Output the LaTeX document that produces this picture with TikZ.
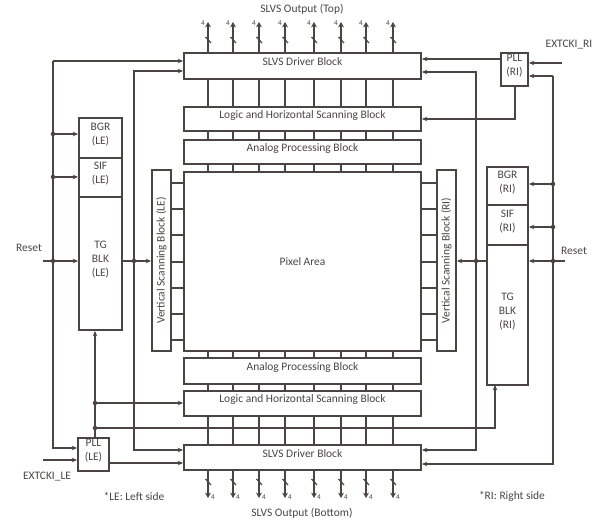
\documentclass[tikz,border=0pt]{standalone}
\usepackage{fontspec}
\setmainfont{Carlito}
\usetikzlibrary{arrows.meta,fit}
\definecolor{lc}{HTML}{4A4442}
\definecolor{tc}{HTML}{4A4646}
\tikzset{
  ln/.style={draw=lc, line width=1.2pt},
  arr/.style={ln, -{Stealth[length=4pt,width=3.4pt]}},
  box/.style={draw=lc, line width=1.4pt, fill=white, inner sep=0pt, text=tc, align=center, font=\fontsize{8.6}{10.5}\selectfont},
  lbl/.style={text=tc, inner sep=0pt, align=center, font=\fontsize{8.6}{10.5}\selectfont},
  small/.style={text=tc, inner sep=0pt, font=\fontsize{5.5}{5.5}\selectfont},
  bus/.style={draw=lc, line width=2.2pt},
  dot/.style={circle, fill=lc, inner sep=0pt, minimum size=3.4pt},
}
\begin{document}
\begin{tikzpicture}[x=0.75pt,y=-0.75pt]
\useasboundingbox (0,0) rectangle (608,524);
% main column blocks
\node[box, fit={(184,53) (421,79)}] (drvT) {SLVS Driver Block};
\node[box, fit={(184,107) (421,131)}] (logT) {Logic and Horizontal Scanning Block};
\node[box, fit={(184,140) (421,164)}] (anaT) {Analog Processing Block};
\node[box, fit={(184,172) (421,351)}] (pix) {};
\node[lbl] (pixt) at (pix.center) {Pixel Area};
\node[box, fit={(184,358) (421,384)}] (anaB) {Analog Processing Block};
\node[box, fit={(184,391) (421,416)}] (logB) {Logic and Horizontal Scanning Block};
\node[box, fit={(184,445) (421,470)}] (drvB) {SLVS Driver Block};
% vertical scanning blocks
\node[box, fit={(152,170) (171,351)}] (vsbL) {};
\node[lbl, rotate=90] (vsbLt) at (vsbL.center) {Vertical Scanning Block (LE)};
\node[box, fit={(437,170) (456,351)}] (vsbR) {};
\node[lbl, rotate=90] (vsbRt) at (vsbR.center) {Vertical Scanning Block (RI)};
% side stacks
\node[box, fit={(79,118) (122,158)}] (bgrL) {BGR\\(LE)};
\node[box, fit={(79,158) (122,197)}] (sifL) {SIF\\(LE)};
\node[box, fit={(79,197) (122,330)}] (tgL) {TG\\BLK\\(LE)};
\node[box, fit={(487,167) (528,205)}] (bgrR) {BGR\\(RI)};
\node[box, fit={(487,205) (528,245)}] (sifR) {SIF\\(RI)};
\node[box, fit={(487,245) (528,385)}] (tgR) {TG\\BLK\\(RI)};
\node[box, fit={(78,438) (109,471)}] (pllL) {PLL\\(LE)};
\node[box, fit={(501,53) (528,86)}] (pllR) {PLL\\(RI)};
% buses between blocks
\foreach \x in {208,233,259,285,314,341,366,393}{
  \draw[bus] (\x,0 |- drvT.south) -- (\x,0 |- logT.north);
  \draw[bus] (\x,0 |- logT.south) -- (\x,0 |- anaT.north);
  \draw[bus] (\x,0 |- anaT.south) -- (\x,0 |- pix.north);
  \draw[bus] (\x,0 |- pix.south) -- (\x,0 |- anaB.north);
  \draw[bus] (\x,0 |- anaB.south) -- (\x,0 |- logB.north);
  \draw[bus] (\x,0 |- logB.south) -- (\x,0 |- drvB.north);
  % top outputs
  \draw[bus, -{Stealth[length=4pt,width=4.4pt]}] (\x,0 |- drvT.north) -- (\x,22);
  \draw[ln, line width=0.9pt] (\x-2.5,37) -- (\x+3,43);
  \node[small] at (\x-5,23) {4};
  % bottom outputs
  \draw[bus, -{Stealth[length=4pt,width=4.4pt]}] (\x,0 |- drvB.south) -- (\x,498);
  \draw[ln, line width=0.9pt] (\x-2.5,479) -- (\x+3,485);
  \node[small] at (\x+5,497) {4};
}
\foreach \y in {183,209,235,262,288,314,340}{
  \draw[bus] (vsbL.east |- 0,\y) -- (pix.west |- 0,\y);
  \draw[bus] (pix.east |- 0,\y) -- (vsbR.west |- 0,\y);
}
% ---- left side connections
\coordinate (lbT) at (53,61);
\coordinate (lbB) at (53,448);
\draw[arr] (lbT) -- (drvT.west |- lbT);
\draw[arr] (lbT) -- (lbB) -- (pllL.west |- lbB);
\coordinate (jBL) at (53,134);
\coordinate (jSL) at (53,177);
\coordinate (jRL) at (53,261);
\coordinate (rstL) at (43,261);
\draw[arr] (jBL) -- (bgrL.west |- jBL);
\draw[arr] (jSL) -- (sifL.west |- jSL);
\draw[arr] (rstL) -- (tgL.west |- rstL);
\node[dot] at (jBL) {}; \node[dot] at (jSL) {}; \node[dot] at (jRL) {};
\node[lbl] (resetL) at (29,248) {Reset};
\coordinate (jTL) at (134,261);
\coordinate (l2t) at (134,71);
\coordinate (l2b) at (134,450);
\draw[arr] (jTL) |- (drvT.west |- l2t);
\draw[arr] (jTL) |- (drvB.west |- l2b);
\draw[arr] (tgL.east |- jTL) -- (vsbL.west |- jTL);
\node[dot] at (jTL) {};
\coordinate (pv1) at (95,403);
\coordinate (pv2) at (95,428);
\coordinate (tgRin) at (495,385);
\draw[arr] (pv2 |- pllL.north) -- (pv1 |- tgL.south);
\draw[arr] (pv1) -- (logB.west |- pv1);
\draw[arr] (pv2) -| (tgRin);
\node[dot] at (pv1) {}; \node[dot] at (pv2) {};
\coordinate (extL) at (43,460);
\draw[arr] (extL) -- (pllL.west |- extL);
\node[lbl] (extLt) at (47,477) {EXTCKI\_LE};
\coordinate (poL) at (109,463);
\draw[arr] (poL) -- (drvB.west |- poL);
% ---- right side connections
\coordinate (poR) at (501,59);
\draw[arr] (poR) -- (drvT.east |- poR);
\coordinate (poR2) at (515,119);
\draw[arr] (poR2 |- pllR.south) |- (logT.east |- poR2);
\coordinate (extR) at (562,63);
\draw[arr] (extR) -- (pllR.east |- extR);
\node[lbl] (extRt) at (569,45) {EXTCKI\_RI};
\coordinate (rbT) at (553,76);
\coordinate (rbB) at (553,464);
\draw[arr] (rbT) -- (pllR.east |- rbT);
\draw[arr] (rbT) -- (rbB) -- (drvB.east |- rbB);
\coordinate (jBR) at (553,184);
\coordinate (jSR) at (553,227);
\coordinate (jRR) at (553,261);
\coordinate (rstR) at (565,261);
\draw[arr] (jBR) -- (bgrR.east |- jBR);
\draw[arr] (jSR) -- (sifR.east |- jSR);
\draw[arr] (rstR) -- (tgR.east |- rstR);
\node[dot] at (jBR) {}; \node[dot] at (jSR) {}; \node[dot] at (jRR) {};
\node[lbl] (resetR) at (574,251) {Reset};
\coordinate (jTR) at (476,261);
\coordinate (r2t) at (476,72);
\coordinate (r2b) at (476,450);
\draw[arr] (jTR) |- (drvT.east |- r2t);
\draw[arr] (jTR) |- (drvB.east |- r2b);
\draw[arr] (tgR.west |- jTR) -- (vsbR.east |- jTR);
\node[dot] at (jTR) {};
% titles and notes
\node[lbl] (tTop) at (302,9) {SLVS Output (Top)};
\node[lbl] (tBot) at (302,513) {SLVS Output (Bottom)};
\node[lbl] (noteL) at (134,496) {*LE: Left side};
\node[lbl] (noteR) at (512,496) {*RI: Right side};
\end{tikzpicture}
\end{document}
